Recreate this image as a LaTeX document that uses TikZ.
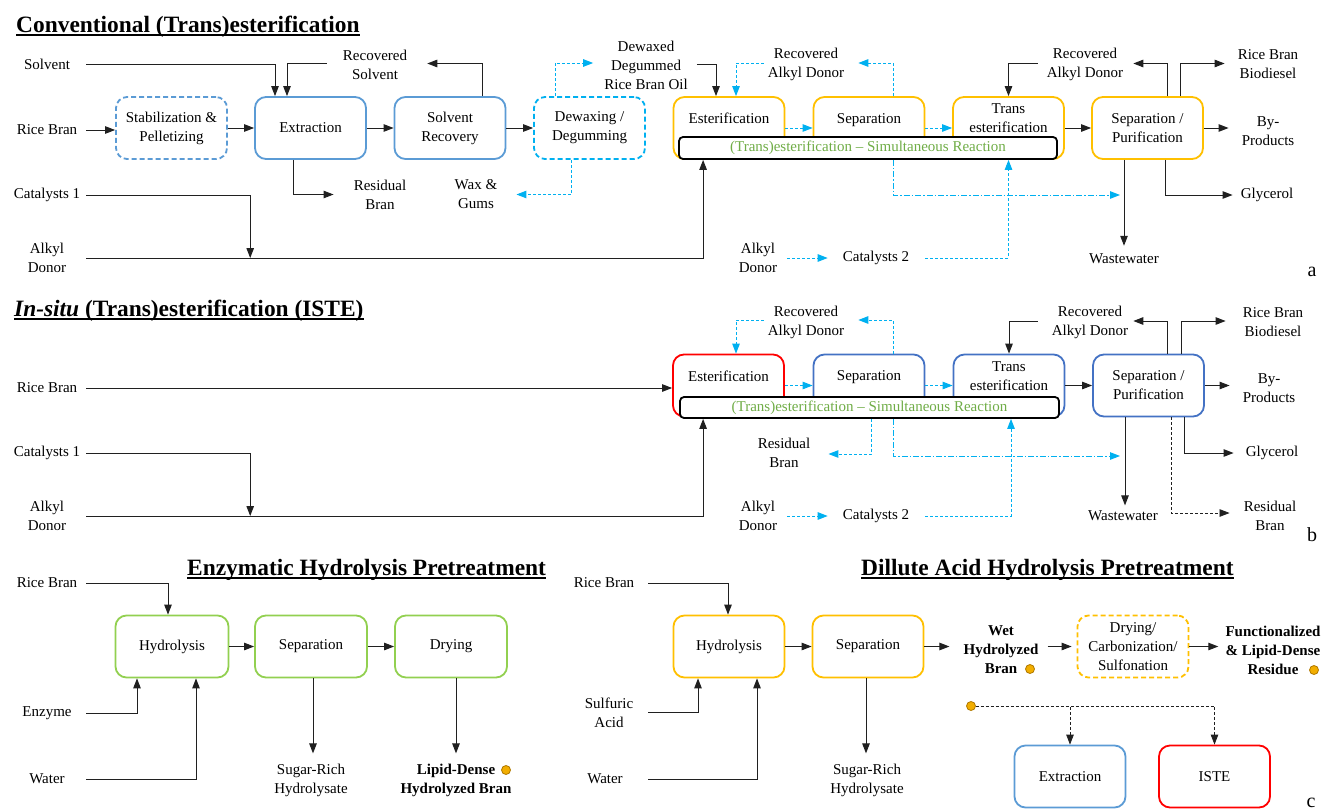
\documentclass[tikz,border=0pt]{standalone}
\usepackage{fontspec}
\setmainfont{Liberation Serif}
\usetikzlibrary{arrows.meta,calc,positioning}

\definecolor{oilblue}{HTML}{5B9BD5}
\definecolor{istblue}{HTML}{4472C4}
\definecolor{flowcyan}{HTML}{00B0F0}
\definecolor{reactorange}{HTML}{FFC000}
\definecolor{enzgreen}{HTML}{92D050}
\definecolor{istered}{HTML}{FF0000}
\definecolor{simgreen}{HTML}{70AD47}
\definecolor{dotfill}{HTML}{F2AE00}
\definecolor{dotdraw}{HTML}{B07800}
\definecolor{linegray}{HTML}{202020}

\tikzset{
txt/.style={
  align=center,
  inner sep=0pt,
  font=\fontsize{15}{19}\selectfont
},
inlabel/.style={
  txt,
  minimum width=78pt
},
boldtxt/.style={
  txt,
  font=\fontsize{15}{19}\selectfont\bfseries
},
titletxt/.style={
  anchor=base west,
  inner sep=0pt,
  font=\fontsize{23.4}{28}\selectfont\bfseries
},
panelletter/.style={
  inner sep=0pt,
  font=\fontsize{20}{24}\selectfont
},
uline/.style={
  line width=2.2pt
},
proc/.style={
  draw,
  rounded corners=11pt,
  line width=1.8pt,
  fill=white,
  minimum width=111pt,
  minimum height=62pt,
  txt
},
dashproc/.style={
  proc,
  dash pattern=on 5pt off 3pt
},
simbar/.style={
  draw=black,
  line width=1.8pt,
  rounded corners=4pt,
  fill=white,
  minimum width=378pt,
  minimum height=22pt,
  txt,
  text=simgreen
},
golddot/.style={
  circle,
  draw=dotdraw,
  fill=dotfill,
  line width=0.8pt,
  inner sep=0pt,
  minimum size=9pt
},
arrow/.style={
  -{Triangle[length=10pt,width=7.5pt]},
  line width=1pt,
  draw=linegray
},
cyanarrow/.style={
  arrow,
  draw=flowcyan,
  dash pattern=on 3pt off 2pt
},
cyandotarrow/.style={
  arrow,
  draw=flowcyan,
  dash pattern=on 6pt off 2pt on 1.5pt off 2pt
},
dashedarrow/.style={
  arrow,
  line width=0.8pt,
  dash pattern=on 3pt off 2pt
}
}

\begin{document}
\begin{tikzpicture}[x=1pt, y=-1pt]
  \useasboundingbox (0,0) rectangle (1325,811);
  \fill[white] (0,0) rectangle (1325,811);

  % (a) Conventional route
  \node[titletxt] (titA) at (16,32) {Conventional (Trans)esterification};
  \draw[uline] ($(titA.base west)+(0,3)$) -- ($(titA.base east)+(0,3)$);
  % Units
  \node[dashproc, draw=oilblue] (stabA) at (171.5,128) {Stabilization \&\\Pelletizing};
  \node[proc, draw=oilblue] (extA) at (310.5,128) {Extraction};
  \node[proc, draw=oilblue] (srA) at (450,128) {Solvent\\Recovery};
  \node[dashproc, draw=flowcyan] (dwA) at (589.5,128) {Dewaxing /\\Degumming};
  \node[proc, draw=reactorange] (esA) at (729,128) {Esterification\\~};
  \node[proc, draw=reactorange] (sepA) at (869,128) {Separation\\~};
  \node[proc, draw=reactorange] (trA) at (1008.5,128) {Trans\\esterification\\~};
  \node[proc, draw=reactorange] (spA) at (1147.5,128) {Separation /\\Purification};
  \node[simbar] (barA) at (868,148) {(Trans)esterification -- Simultaneous Reaction};
  % Streams
  \node[inlabel] (solvA) at (47,64) {Solvent};
  \node[inlabel] (rbA) at (47,130) {Rice Bran};
  \node[inlabel] (cat1A) at (47,195) {Catalysts 1};
  \node[inlabel] (adA) at (47,258) {Alkyl\\Donor};
  \node[txt] (rsolA) at (375,64.5) {Recovered\\Solvent};
  \node[txt] (resA) at (380,194.5) {Residual\\Bran};
  \node[txt] (waxA) at (476,194.5) {Wax \&\\Gums};
  \node[txt] (dwoA) at (646,65) {Dewaxed\\Degummed\\Rice Bran Oil};
  \node[txt] (radA) at (806,64.5) {Recovered\\Alkyl Donor};
  \node[txt] (radA2) at (1085,64.5) {Recovered\\Alkyl Donor};
  \node[txt] (bioA) at (1268,64.5) {Rice Bran\\Biodiesel};
  \node[txt] (byA) at (1268,131) {By-\\Products};
  \node[txt] (glyA) at (1267,195) {Glycerol};
  \node[txt] (wwA) at (1124,259) {Wastewater};
  \node[txt] (ad2A) at (758,258) {Alkyl\\Donor};
  \node[txt] (cat2A) at (876,258) {Catalysts 2};
  \node[panelletter] (letA) at (1312,272) {a};
  % Connectors
  \draw[arrow] (rbA.east) -- (rbA.east -| stabA.west);
  \draw[arrow] (stabA.east) -- (extA.west);
  \draw[arrow] (extA.east) -- (srA.west);
  \draw[arrow] (srA.east) -- (dwA.west);
  \draw[arrow] (solvA.east) -| ($(extA.north)+(-35.5,0)$);
  \draw[arrow] ($(rsolA.west)+(-16,-1.5)$) -| ($(extA.north)+(-23.5,0)$);
  \draw[arrow] ($(srA.north)+(32,0)$) |- ($(rsolA.east)+(20,-1)$);
  \draw[arrow] ($(extA.south)+(-17.5,0)$) |- ($(resA.west)+(-20,0)$);
  \draw[cyanarrow] ($(dwA.south)+(-18.5,0)$) |- ($(waxA.east)+(19,0)$);
  \draw[cyanarrow] ($(dwA.north)+(-34.5,0)$) |- ($(dwoA.west)+(-11,-2)$);
  \draw[arrow] ($(dwoA.east)+(9,-1)$) -| ($(esA.north)+(-13,0)$);
  \draw[cyanarrow] ($(radA.west)+(-4,-1.5)$) -| ($(esA.north)+(7,0)$);
  \draw[cyanarrow] ($(sepA.north)+(24,0)$) |- ($(radA.east)+(14,-1.5)$);
  \draw[cyanarrow] (esA.east) -- (sepA.west);
  \draw[cyanarrow] (sepA.east) -- (trA.west);
  \draw[arrow] (trA.east) -- (spA.west);
  \draw[arrow] ($(radA2.west)+(-9,-1.5)$) -| (trA.north);
  \draw[arrow] ($(spA.north)+(19.5,0)$) |- ($(radA2.east)+(10,-1)$);
  \draw[arrow] ($(spA.north)+(32.5,0)$) |- ($(bioA.west)+(-13,-1)$);
  \draw[arrow] (spA.east) -- ($(spA.east -| byA.west)+(-13,0)$);
  \draw[arrow] ($(spA.south)+(17.5,0)$) |- ($(glyA.west)+(-8,0)$);
  \draw[arrow] (wwA.north |- spA.south) -- ($(wwA.north)+(0,-8)$);
  \draw[cyandotarrow] ($(barA.south)+(25,0)$) |- ($(wwA.north |- glyA.west)+(-4,0)$);
  \draw[cyanarrow] ($(ad2A.east)+(10,0)$) -- ($(cat2A.west)+(-15,0)$);
  \draw[cyanarrow] ($(cat2A.east)+(16,0)$) -| (trA.center |- barA.south);
  \draw[arrow] (cat1A.east) -| ($(adA.east)+(164,0)$);
  \draw[arrow] (adA.east) -| ($(barA.south west)+(25,0)$);

  % (b) In-situ route
  \node[titletxt] (titB) at (14,316) {\textit{In-situ} (Trans)esterification (ISTE)};
  \draw[uline] ($(titB.base west)+(0,3)$) -- ($(titB.base east)+(0,3)$);
  % Units
  \node[proc, draw=istered] (esB) at (728.5,385.5) {Esterification\\~};
  \node[proc, draw=istblue] (sepB) at (869,385.5) {Separation\\~};
  \node[proc, draw=istblue] (trB) at (1009,385.5) {Trans\\esterification\\~};
  \node[proc, draw=istblue] (spB) at (1148.5,385.5) {Separation /\\Purification};
  \node[simbar, minimum width=379pt, minimum height=21pt] (barB) at (869.5,407.5) {(Trans)esterification -- Simultaneous Reaction};
  % Streams
  \node[inlabel] (rbB) at (47,388) {Rice Bran};
  \node[inlabel] (cat1B) at (47,453) {Catalysts 1};
  \node[inlabel] (adB) at (47,516) {Alkyl\\Donor};
  \node[txt] (radB) at (806,322) {Recovered\\Alkyl Donor};
  \node[txt] (radB2) at (1090,322) {Recovered\\Alkyl Donor};
  \node[txt] (bioB) at (1273,322) {Rice Bran\\Biodiesel};
  \node[txt] (byB) at (1269,388) {By-\\Products};
  \node[txt] (glyB) at (1272,453) {Glycerol};
  \node[txt] (wwB) at (1123,516) {Wastewater};
  \node[txt] (rb2B) at (1270,516) {Residual\\Bran};
  \node[txt] (resB) at (784,452.5) {Residual\\Bran};
  \node[txt] (ad2B) at (758,516) {Alkyl\\Donor};
  \node[txt] (cat2B) at (876,516) {Catalysts 2};
  \node[panelletter] (letB) at (1312,535) {b};
  % Connectors
  \draw[arrow] (rbB.east) -- (rbB.east -| esB.west);
  \draw[cyanarrow] ($(radB.west)+(-4,-2)$) -| ($(esB.north)+(7.5,0)$);
  \draw[cyanarrow] ($(sepB.north)+(24,0)$) |- ($(radB.east)+(14,-2)$);
  \draw[cyanarrow] (esB.east) -- (sepB.west);
  \draw[cyanarrow] (sepB.east) -- (trB.west);
  \draw[arrow] (trB.east) -- (spB.west);
  \draw[arrow] ($(radB2.west)+(-14,-1)$) -| (trB.north);
  \draw[arrow] ($(spB.north)+(18.5,0)$) |- ($(radB2.east)+(5,-1)$);
  \draw[arrow] ($(spB.north)+(32.5,0)$) |- ($(bioB.west)+(-17,-1)$);
  \draw[arrow] (spB.east) -- ($(spB.east -| byB.west)+(-13,0)$);
  \draw[arrow] ($(spB.south)+(35.5,0)$) |- ($(glyB.west)+(-12,0)$);
  \draw[arrow] ($(spB.south)+(-23.5,0)$) -- ++(0,88);
  \draw[dashedarrow] ($(spB.south)+(22.5,0)$) |- ($(rb2B.west)+(-14,-3)$);
  \draw[cyanarrow] ($(barB.south)+(2,0)$) |- ($(resB.east)+(18,1.5)$);
  \draw[cyandotarrow] ($(barB.south)+(23.5,0)$) |- ($(wwB.north |- glyB.west)+(-3,3)$);
  \draw[cyanarrow] ($(ad2B.east)+(10,0)$) -- ($(cat2B.west)+(-15,0)$);
  \draw[cyanarrow] ($(cat2B.east)+(16,0)$) -| ($(trB.center |- barB.south)+(2,0)$);
  \draw[arrow] (cat1B.east) -| ($(adB.east)+(164,0)$);
  \draw[arrow] (adB.east) -| ($(barB.south west)+(24,0)$);

  % (c) Enzymatic hydrolysis
  \node[titletxt] (titC) at (187,575) {Enzymatic Hydrolysis Pretreatment};
  \draw[uline] ($(titC.base west)+(0,3)$) -- ($(titC.base east)+(0,3)$);
  \node[proc, draw=enzgreen, minimum width=113pt] (hydC) at (172,646.5) {Hydrolysis};
  \node[proc, draw=enzgreen, minimum width=112pt] (sepC) at (311,646.5) {Separation};
  \node[proc, draw=enzgreen, minimum width=112pt] (dryC) at (451,646.5) {Drying};
  \node[inlabel] (rbC) at (47,583) {Rice Bran};
  \node[inlabel] (enzC) at (47,713) {Enzyme};
  \node[inlabel] (watC) at (47,779) {Water};
  \node[txt] (srhC) at (311,780) {Sugar-Rich\\Hydrolysate};
  \node[boldtxt] (ldhC) at (456,780) {Lipid-Dense\\Hydrolyzed Bran};
  \node[golddot] (dotC) at (506,770) {};
  \draw[arrow] (rbC.east) -| ($(hydC.north)+(-4,0)$);
  \draw[arrow] (hydC.east) -- (sepC.west);
  \draw[arrow] (sepC.east) -- (dryC.west);
  \draw[arrow] (enzC.east) -| ($(hydC.south)+(-35,0)$);
  \draw[arrow] (watC.east) -| ($(hydC.south)+(24,0)$);
  \draw[arrow] ($(sepC.south)+(2,0)$) -- ++(0,75);
  \draw[arrow] ($(dryC.south)+(5,0)$) -- ++(0,75);

  % (c) Dilute acid hydrolysis
  \node[titletxt] (titD) at (861,575) {Dillute Acid Hydrolysis Pretreatment};
  \draw[uline] ($(titD.base west)+(0,3)$) -- ($(titD.base east)+(0,3)$);
  \node[proc, draw=reactorange] (hydD) at (729,646.5) {Hydrolysis};
  \node[proc, draw=reactorange] (sepD) at (868,646.5) {Separation};
  \node[dashproc, draw=reactorange] (ddD) at (1133,646.5) {Drying/\\Carbonization/\\Sulfonation};
  \node[proc, draw=oilblue] (extD) at (1070,776.5) {Extraction};
  \node[proc, draw=istered] (isteD) at (1214.5,776.5) {ISTE};
  \node[inlabel, minimum width=88pt] (rbD) at (604,583) {Rice Bran};
  \node[inlabel] (saD) at (609,712.5) {Sulfuric\\Acid};
  \node[inlabel, minimum width=86pt] (watD) at (605,779) {Water};
  \node[txt] (srhD) at (867,780) {Sugar-Rich\\Hydrolysate};
  \node[boldtxt] (wetD) at (1001,650) {Wet\\Hydrolyzed\\Bran};
  \node[boldtxt] (fldD) at (1273,650) {Functionalized\\\& Lipid-Dense\\Residue};
  \node[golddot] (dotD1) at (1030,669) {};
  \node[golddot] (dotD2) at (1314,670) {};
  \node[golddot] (dotD3) at (971,706) {};
  \node[panelletter] (letC) at (1311,803) {c};
  \draw[arrow] (rbD.east) -| ($(hydD.north)+(-1,0)$);
  \draw[arrow] (saD.east) -| ($(hydD.south)+(-31,0)$);
  \draw[arrow] (watD.east) -| ($(hydD.south)+(28,0)$);
  \draw[arrow] (hydD.east) -- (sepD.west);
  \draw[arrow] ($(sepD.south)+(-2,0)$) -- ++(0,75);
  \draw[arrow] (sepD.east) -- ($(sepD.east -| wetD.west)+(-14,0)$);
  \draw[arrow] ($(wetD.east |- ddD.west)+(9,0)$) -- ($(ddD.west)+(-5,0)$);
  \draw[arrow] (ddD.east) -- ($(ddD.east -| fldD.west)+(-7,0)$);
  \draw[dashedarrow] (dotD3.east) -| (extD.north);
  \draw[dashedarrow] (dotD3.east) -| (isteD.north);
\end{tikzpicture}
\end{document}
